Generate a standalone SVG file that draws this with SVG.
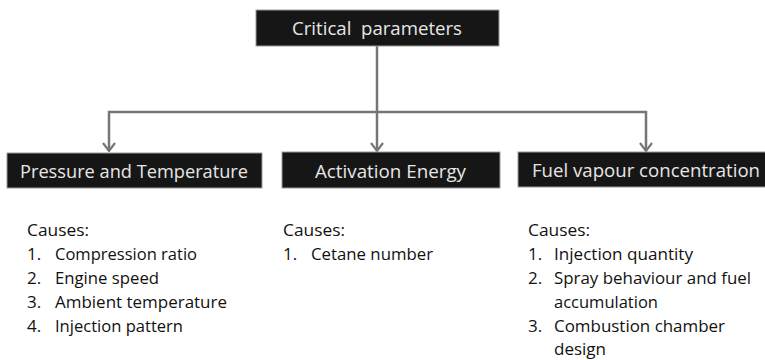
<svg xmlns="http://www.w3.org/2000/svg" width="765" height="360" viewBox="0 0 765 360">
<style>
.box{fill:#161616;stroke:#9a9a9a;stroke-width:1}
.bt{font-family:"Open Sans","Liberation Sans",sans-serif;font-size:19px;font-weight:500;fill:#e6e6e6}
.tx{font-family:"Open Sans","Liberation Sans",sans-serif;font-size:17px;font-weight:500;fill:#111111}
.conn{fill:none;stroke:#767676;stroke-width:2.5}
.ah{fill:none;stroke:#767676;stroke-width:2.2}
</style>
<rect width="765" height="360" fill="#ffffff"/>
<g id="connectors">
<line class="conn" x1="377" y1="46" x2="377" y2="150"/>
<polyline class="conn" points="109,151 109,112 646,112 646,151"/>
<polyline class="ah" points="103,143 109,151 115,143"/>
<polyline class="ah" points="371,143 377,151 383,143"/>
<polyline class="ah" points="640,143 646,151 652,143"/>
</g>
<g id="critical">
<rect class="box" x="256" y="10" width="243" height="36"/>
<text class="bt" x="292" y="35" textLength="170" lengthAdjust="spacingAndGlyphs" xml:space="preserve">Critical  parameters</text>
</g>
<g id="pressure">
<rect class="box" x="7" y="153" width="255" height="35"/>
<text class="bt" x="20" y="178" textLength="228" lengthAdjust="spacingAndGlyphs">Pressure and Temperature</text>
</g>
<g id="activation">
<rect class="box" x="282" y="152" width="218" height="36"/>
<text class="bt" x="315" y="178" textLength="151" lengthAdjust="spacingAndGlyphs">Activation Energy</text>
</g>
<g id="fuel">
<rect class="box" x="518" y="152" width="250" height="35"/>
<text class="bt" x="532" y="177" textLength="228" lengthAdjust="spacingAndGlyphs">Fuel vapour concentration</text>
</g>
<g id="causes-pressure">
<text class="tx" x="27" y="236" textLength="62" lengthAdjust="spacingAndGlyphs">Causes:</text>
<text class="tx" x="27" y="260">1.</text>
<text class="tx" x="55" y="260" textLength="142" lengthAdjust="spacingAndGlyphs">Compression ratio</text>
<text class="tx" x="27" y="284">2.</text>
<text class="tx" x="55" y="284" textLength="104" lengthAdjust="spacingAndGlyphs">Engine speed</text>
<text class="tx" x="27" y="308">3.</text>
<text class="tx" x="55" y="308" textLength="172" lengthAdjust="spacingAndGlyphs">Ambient temperature</text>
<text class="tx" x="27" y="332">4.</text>
<text class="tx" x="55" y="332" textLength="128" lengthAdjust="spacingAndGlyphs">Injection pattern</text>
</g>
<g id="causes-activation">
<text class="tx" x="283" y="236" textLength="62" lengthAdjust="spacingAndGlyphs">Causes:</text>
<text class="tx" x="283" y="260">1.</text>
<text class="tx" x="311" y="260" textLength="122" lengthAdjust="spacingAndGlyphs">Cetane number</text>
</g>
<g id="causes-fuel">
<text class="tx" x="528" y="236" textLength="62" lengthAdjust="spacingAndGlyphs">Causes:</text>
<text class="tx" x="528" y="260">1.</text>
<text class="tx" x="554" y="260" textLength="139" lengthAdjust="spacingAndGlyphs">Injection quantity</text>
<text class="tx" x="528" y="284">2.</text>
<text class="tx" x="554" y="284" textLength="197" lengthAdjust="spacingAndGlyphs">Spray behaviour and fuel</text>
<text class="tx" x="554" y="308" textLength="104" lengthAdjust="spacingAndGlyphs">accumulation</text>
<text class="tx" x="528" y="332">3.</text>
<text class="tx" x="554" y="332" textLength="171" lengthAdjust="spacingAndGlyphs">Combustion chamber</text>
<text class="tx" x="554" y="355" textLength="52" lengthAdjust="spacingAndGlyphs">design</text>
</g>
</svg>
